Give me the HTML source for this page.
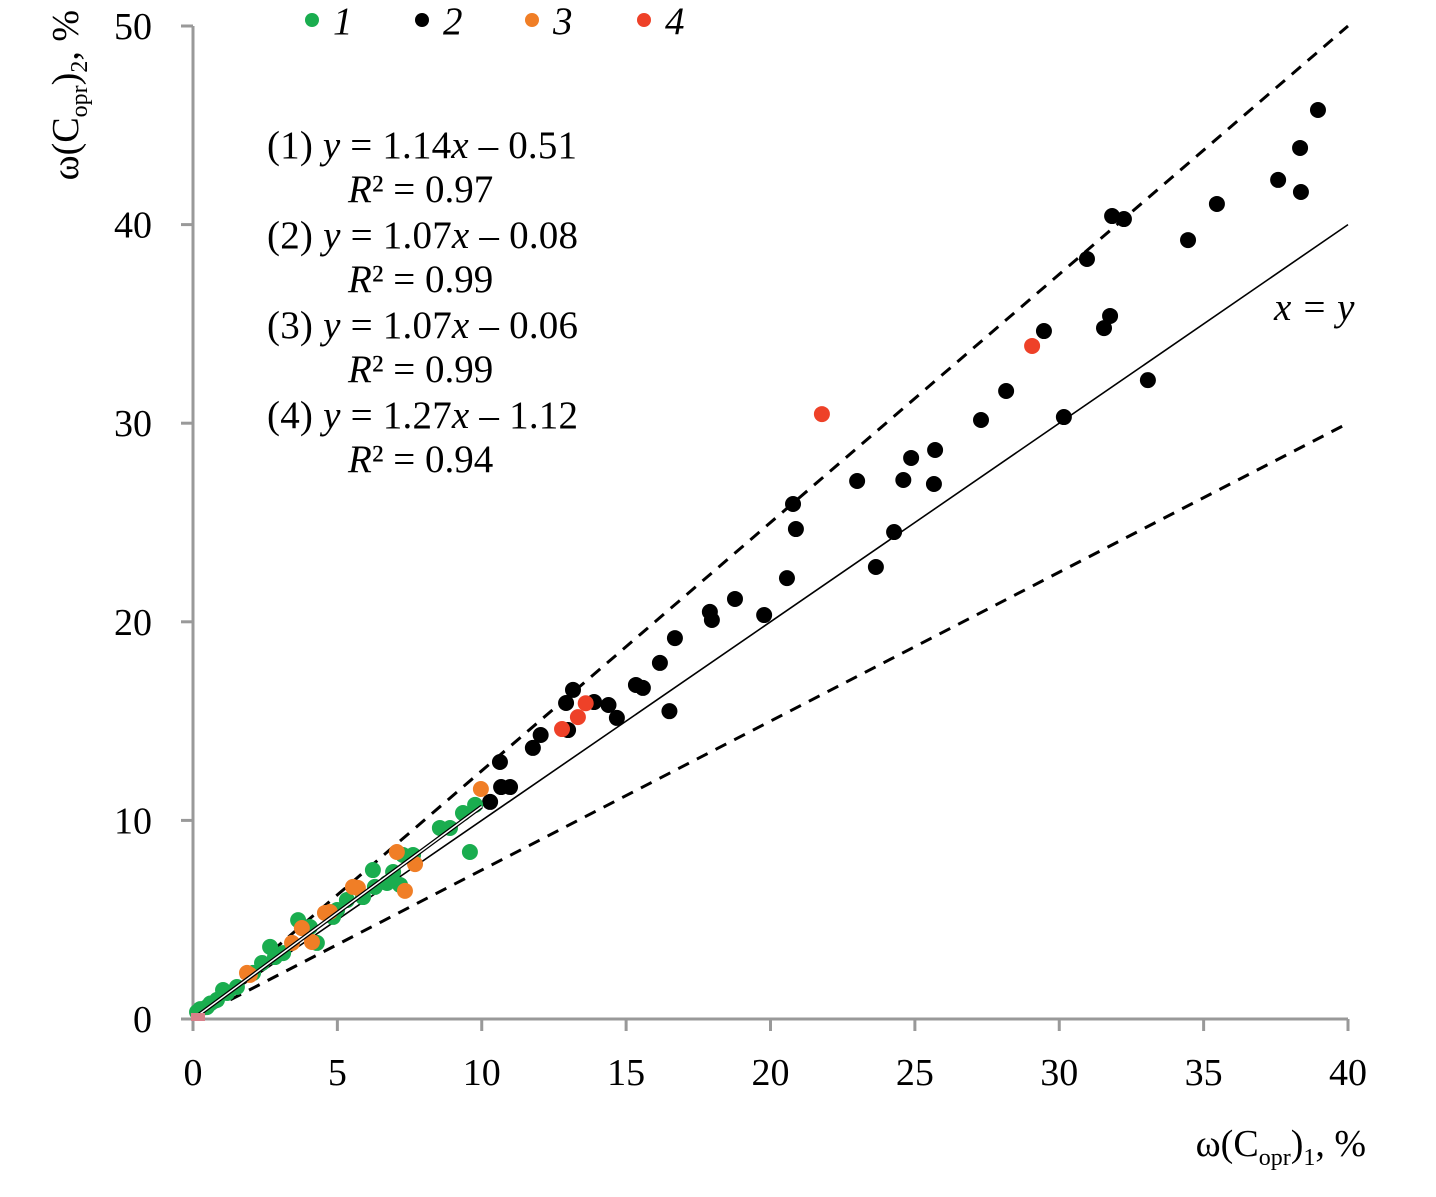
<!DOCTYPE html>
<html><head><meta charset="utf-8">
<style>
body{margin:0;background:#fff;}
svg text{font-family:"Liberation Serif",serif;fill:#000;}
</style></head>
<body>
<svg id="chart" width="1436" height="1192" xmlns="http://www.w3.org/2000/svg">
<g id="axes"></g>
<g id="lines"></g>
<g id="pts"></g>
<g>
 <circle cx="312" cy="20" r="7" fill="#1aad4f"/>
 <text x="333" y="34" font-size="39" font-style="italic">1</text>
 <circle cx="422" cy="20" r="7" fill="#000"/>
 <text x="443" y="34" font-size="39" font-style="italic">2</text>
 <circle cx="532" cy="20" r="7" fill="#f07e26"/>
 <text x="553" y="34" font-size="39" font-style="italic">3</text>
 <circle cx="644" cy="20" r="7" fill="#ee4128"/>
 <text x="665" y="34" font-size="39" font-style="italic">4</text>
</g>
<g font-size="39">
 <text x="267" y="158" textLength="310">(1) <tspan font-style="italic">y</tspan> = 1.14<tspan font-style="italic">x</tspan> – 0.51</text>
 <text x="348" y="202"><tspan font-style="italic">R</tspan>² = 0.97</text>
 <text x="267" y="248" textLength="311">(2) <tspan font-style="italic">y</tspan> = 1.07<tspan font-style="italic">x</tspan> – 0.08</text>
 <text x="348" y="292"><tspan font-style="italic">R</tspan>² = 0.99</text>
 <text x="267" y="338" textLength="311">(3) <tspan font-style="italic">y</tspan> = 1.07<tspan font-style="italic">x</tspan> – 0.06</text>
 <text x="348" y="382"><tspan font-style="italic">R</tspan>² = 0.99</text>
 <text x="267" y="428" textLength="311">(4) <tspan font-style="italic">y</tspan> = 1.27<tspan font-style="italic">x</tspan> – 1.12</text>
 <text x="348" y="472"><tspan font-style="italic">R</tspan>² = 0.94</text>
 <text x="1274" y="320" font-style="italic">x = y</text>
</g>
<text x="1366" y="1156" font-size="38" text-anchor="end">ω(C<tspan font-size="24" dy="9">opr</tspan><tspan dy="-9">)</tspan><tspan font-size="24" dy="9">1</tspan><tspan dy="-9">, %</tspan></text>
<text transform="translate(78,10) rotate(-90)" font-size="38" text-anchor="end">ω(C<tspan font-size="24" dy="9">opr</tspan><tspan dy="-9">)</tspan><tspan font-size="24" dy="9">2</tspan><tspan dy="-9">, %</tspan></text>
</svg>
<script>
const xTicks=[0,5,10,15,20,25,30,35,40];
const yTicks=[0,10,20,30,40,50];
const s1x=[9.59,9.77,9.35,8.9,8.55,7.62,7.27,6.93,6.23,7.17,6.72,6.3,5.89,5.33,4.85,4.99,3.64,4.05,4.29,2.67,3.12,2.84,2.39,2.08,1.52,1.18,0.83,0.48,0.14,1.04,0.6,0.25];
const s1y=[8.41,10.78,10.37,9.62,9.62,8.26,8.26,7.4,7.5,6.75,6.85,6.65,6.14,5.99,5.14,5.49,4.98,4.63,3.83,3.63,3.32,3.12,2.82,2.32,1.61,1.31,0.96,0.6,0.35,1.46,0.78,0.5];
const s2x=[20.78,20.88,20.57,23.0,23.65,24.28,24.6,24.87,25.66,25.7,27.29,28.16,29.47,30.16,30.96,31.55,31.76,31.83,32.24,33.07,34.46,35.46,37.58,38.34,38.37,38.96,18.77,17.9,17.97,19.78,16.69,16.17,16.5,15.58,15.34,14.68,14.39,13.89,13.16,12.92,12.99,12.04,11.77,10.98,10.67,10.63,10.29];
const s2y=[25.93,24.67,22.2,27.09,22.76,24.52,27.14,28.25,26.94,28.65,30.16,31.62,34.64,30.31,38.27,34.79,35.4,40.43,40.28,32.17,39.22,41.04,42.25,43.86,41.64,45.77,21.15,20.5,20.09,20.34,19.18,17.93,15.5,16.67,16.82,15.16,15.81,15.96,16.57,15.91,14.55,14.3,13.65,11.68,11.68,12.94,10.93];
const s3x=[9.97,7.06,7.69,7.34,5.71,5.54,4.57,4.74,3.77,4.12,3.43,1.97,1.87];
const s3y=[11.58,8.41,7.8,6.45,6.6,6.65,5.34,5.39,4.58,3.88,3.83,2.22,2.32];
const s4x=[21.78,29.06,12.78,13.33,13.6];
const s4y=[30.46,33.89,14.6,15.2,15.9];
const NS='http://www.w3.org/2000/svg';
const X0=193,X1=1348,Y0=1019,Y1=26;
const sx=v=>X0+(X1-X0)*v/40;
const sy=v=>Y0-(Y0-Y1)*v/50;
function mk(tag,attrs,parent){const e=document.createElementNS(NS,tag);for(const k in attrs)e.setAttribute(k,attrs[k]);parent.appendChild(e);return e;}
const ax=document.getElementById('axes');
let a=mk('line',{x1:X0,y1:Y1,x2:X0,y2:Y0,stroke:'#999','stroke-width':3},ax);


a=mk('line',{x1:X0,y1:Y0,x2:X1,y2:Y0,stroke:'#999','stroke-width':3},ax);


xTicks.forEach(t=>{
 const l=mk('line',{x1:sx(t),y1:Y0,x2:sx(t),y2:Y0+12,stroke:'#999','stroke-width':3},ax);
 
 
 const tx=mk('text',{x:sx(t),y:Y0+66,'font-size':38,'text-anchor':'middle'},ax);
 tx.textContent=t;
 
 
});
yTicks.forEach(t=>{
 const l=mk('line',{x1:X0-12,y1:sy(t),x2:X0,y2:sy(t),stroke:'#999','stroke-width':3},ax);
 
 
 const tx=mk('text',{x:152,y:sy(t)+13,'font-size':38,'text-anchor':'end'},ax);
 tx.textContent=t;
 
 
});
const ln=document.getElementById('lines');
let r=mk('line',{x1:sx(0),y1:sy(0),x2:sx(40),y2:sy(50),stroke:'#000','stroke-width':3,'stroke-dasharray':'12,9'},ln);


r=mk('line',{x1:sx(0),y1:sy(0),x2:sx(40),y2:sy(30),stroke:'#000','stroke-width':3,'stroke-dasharray':'12,9'},ln);


r=mk('line',{x1:sx(0),y1:sy(0),x2:sx(40),y2:sy(40),stroke:'#000','stroke-width':1.6},ln);


const pts=document.getElementById('pts');
function series(xs,ys,col,name){xs.forEach((x,i)=>{
 const c=mk('circle',{cx:sx(x),cy:sy(ys[i]),r:8,fill:col},pts);
 
 
});}
series(s2x,s2y,'#000','point-series-2');
series(s1x,s1y,'#1aad4f','point-series-1');
series(s3x,s3y,'#f07e26','point-series-3');
series(s4x,s4y,'#ee4128','point-series-4');
let t=mk('line',{x1:sx(0),y1:sy(0),x2:sx(10),y2:sy(10.7),stroke:'#000','stroke-width':4},pts);


t=mk('line',{x1:sx(0),y1:sy(0),x2:sx(10),y2:sy(10.7),stroke:'#fff','stroke-width':1.5},pts);


const sq=mk('rect',{x:sx(0)-2,y:sy(0)-6,width:14,height:8,fill:'#d9808a'},pts);


</script>
</body></html>
